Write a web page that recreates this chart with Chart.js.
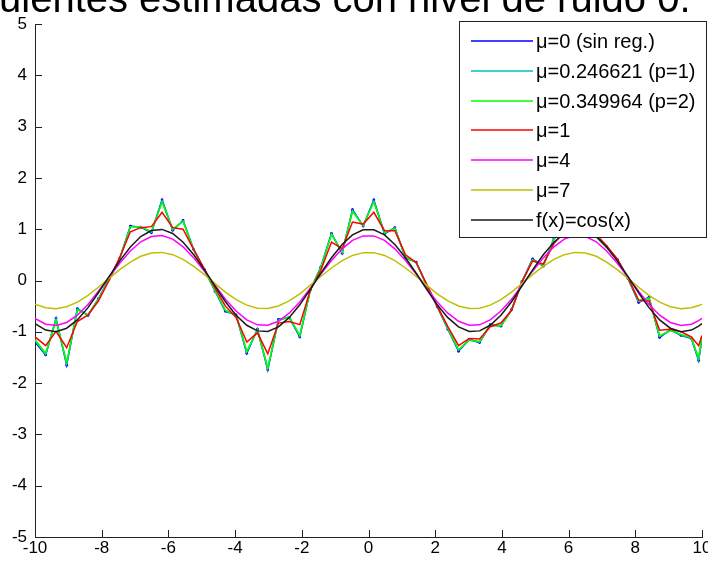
<!DOCTYPE html>
<html>
<head>
<meta charset="utf-8">
<script src="https://cdn.jsdelivr.net/npm/chart.js@4/dist/chart.umd.min.js"></script>
<style>
html, body { margin: 0; padding: 0; background: #fff; overflow: hidden; }
canvas { display: block; }
</style>
</head>
<body>
<canvas id="plot" width="708" height="561"></canvas>
<script>
"use strict";

// sample positions along x
var xs = [-10, -9.68, -9.37, -9.05, -8.73, -8.41, -8.10, -7.78, -7.46, -7.14, -6.83, -6.51, -6.19, -5.87, -5.56, -5.24,
  -4.92, -4.60, -4.29, -3.97, -3.65, -3.33, -3.02, -2.70, -2.38, -2.06, -1.75, -1.43, -1.11, -0.79, -0.48, -0.16,
  0.16, 0.48, 0.79, 1.11, 1.43, 1.75, 2.06, 2.38, 2.70, 3.02, 3.33, 3.65, 3.97, 4.29, 4.60, 4.92,
  5.24, 5.56, 5.87, 6.19, 6.51, 6.83, 7.14, 7.46, 7.78, 8.10, 8.41, 8.73, 9.05, 9.37, 9.68, 9.90, 10];

var yMu0 = [-1.20, -1.45, -0.74, -1.65, -0.55, -0.68, -0.36, 0.03, 0.43, 1.06, 1.04, 0.93, 1.57, 0.98, 1.17, 0.60,
  0.21, -0.21, -0.60, -0.67, -1.42, -0.95, -1.74, -0.76, -0.72, -1.10, -0.19, 0.26, 0.92, 0.53, 1.38, 1.06,
  1.57, 0.91, 1.03, 0.44, 0.36, -0.11, -0.51, -0.95, -1.38, -1.15, -1.21, -0.86, -0.89, -0.57, -0.02, 0.42,
  0.28, 0.82, 1.17, 1.33, 0.93, 0.86, 0.66, 0.41, 0.04, -0.43, -0.33, -1.11, -0.96, -1.07, -1.13, -1.56, -1.12];

var yP1 = [-1.17, -1.44, -0.76, -1.62, -0.56, -0.67, -0.37, 0.02, 0.42, 1.05, 1.05, 0.94, 1.55, 0.99, 1.16, 0.60,
  0.20, -0.20, -0.59, -0.68, -1.40, -0.96, -1.72, -0.77, -0.71, -1.08, -0.20, 0.25, 0.91, 0.54, 1.36, 1.07,
  1.55, 0.92, 1.02, 0.45, 0.35, -0.10, -0.50, -0.94, -1.36, -1.16, -1.20, -0.87, -0.88, -0.58, -0.03, 0.41,
  0.29, 0.81, 1.16, 1.31, 0.94, 0.85, 0.65, 0.40, 0.05, -0.41, -0.34, -1.09, -0.97, -1.06, -1.12, -1.54, -1.11];

var yP2 = [-1.15, -1.42, -0.77, -1.60, -0.57, -0.67, -0.37, 0.02, 0.42, 1.05, 1.05, 0.95, 1.53, 1.00, 1.15, 0.60,
  0.20, -0.20, -0.58, -0.68, -1.38, -0.97, -1.70, -0.78, -0.71, -1.07, -0.20, 0.25, 0.90, 0.55, 1.35, 1.07,
  1.53, 0.93, 1.02, 0.45, 0.35, -0.10, -0.50, -0.93, -1.35, -1.16, -1.19, -0.88, -0.88, -0.58, -0.03, 0.40,
  0.30, 0.80, 1.15, 1.30, 0.95, 0.85, 0.65, 0.40, 0.05, -0.40, -0.35, -1.08, -0.97, -1.05, -1.12, -1.52, -1.10];

var yMu1 = [-1.10, -1.27, -0.99, -1.31, -0.80, -0.67, -0.40, 0.00, 0.45, 0.95, 1.03, 1.05, 1.33, 1.03, 1.00, 0.60,
  0.22, -0.15, -0.50, -0.72, -1.20, -1.02, -1.43, -0.83, -0.80, -0.86, -0.20, 0.20, 0.75, 0.62, 1.14, 1.10,
  1.33, 0.97, 0.97, 0.50, 0.35, -0.08, -0.50, -0.90, -1.27, -1.13, -1.14, -0.90, -0.83, -0.58, -0.03, 0.38,
  0.32, 0.72, 0.95, 1.15, 0.95, 0.90, 0.68, 0.42, 0.05, -0.38, -0.40, -0.97, -0.95, -1.00, -1.10, -1.27, -1.07];

var yMu4 = [-0.738, -0.851, -0.878, -0.818, -0.676, -0.466, -0.210, 0.067, 0.337, 0.575, 0.755, 0.858, 0.876, 0.807, 0.657, 0.441,
  0.182, -0.096, -0.364, -0.596, -0.768, -0.864, -0.873, -0.795, -0.637, -0.417, -0.154, 0.125, 0.391, 0.617, 0.782, 0.869,
  0.869, 0.782, 0.617, 0.391, 0.125, -0.154, -0.417, -0.637, -0.795, -0.873, -0.864, -0.768, -0.596, -0.364, -0.096, 0.182,
  0.441, 0.657, 0.807, 0.876, 0.858, 0.755, 0.575, 0.337, 0.067, -0.210, -0.466, -0.676, -0.818, -0.878, -0.851, -0.782, -0.738];

var yMu7 = [-0.461, -0.532, -0.549, -0.511, -0.422, -0.291, -0.131, 0.042, 0.211, 0.359, 0.472, 0.536, 0.548, 0.504, 0.411, 0.276,
  0.114, -0.060, -0.228, -0.372, -0.480, -0.540, -0.546, -0.497, -0.398, -0.261, -0.096, 0.078, 0.244, 0.386, 0.489, 0.543,
  0.543, 0.489, 0.386, 0.244, 0.078, -0.096, -0.261, -0.398, -0.497, -0.546, -0.540, -0.480, -0.372, -0.228, -0.060, 0.114,
  0.276, 0.411, 0.504, 0.548, 0.536, 0.472, 0.359, 0.211, 0.042, -0.131, -0.291, -0.422, -0.511, -0.549, -0.532, -0.489, -0.461];

var yCos = [-0.839, -0.967, -0.998, -0.930, -0.768, -0.529, -0.239, 0.076, 0.383, 0.653, 0.858, 0.975, 0.996, 0.917, 0.747, 0.501,
  0.207, -0.109, -0.414, -0.677, -0.873, -0.982, -0.992, -0.903, -0.724, -0.474, -0.175, 0.142, 0.444, 0.701, 0.889, 0.987,
  0.987, 0.889, 0.701, 0.444, 0.142, -0.175, -0.474, -0.724, -0.903, -0.992, -0.982, -0.873, -0.677, -0.414, -0.109, 0.207,
  0.501, 0.747, 0.917, 0.996, 0.975, 0.858, 0.653, 0.383, 0.076, -0.239, -0.529, -0.768, -0.930, -0.998, -0.967, -0.889, -0.839];

var seriesLabels = ["\u03bc=0 (sin reg.)", "\u03bc=0.246621 (p=1)", "\u03bc=0.349964 (p=2)", "\u03bc=1", "\u03bc=4", "\u03bc=7", "f(x)=cos(x)"];
var seriesValues = [yMu0, yP1, yP2, yMu1, yMu4, yMu7, yCos];
var seriesColors = ["#0000ff", "#00bfbf", "#00ff00", "#ff0000", "#ff00ff", "#bfbf00", "#1a1a1a"];

var xTicks = [-10, -8, -6, -4, -2, 0, 2, 4, 6, 8, 10];
var yTicks = [-5, -4, -3, -2, -1, 0, 1, 2, 3, 4, 5];

var titleText = "uientes estimadas con nivel de ruido 0.";

var tickFont = { family: "'Liberation Sans Narrow', 'Arial Narrow', 'Liberation Sans', sans-serif", size: 17 };

var datasets = seriesValues.map(function (vals, i) {
  return {
    label: seriesLabels[i],
    data: xs.map(function (x, k) { return { x: x, y: vals[k] }; }),
    borderColor: seriesColors[i],
    backgroundColor: seriesColors[i],
    borderWidth: 1.5,
    pointRadius: i === 0 ? 1.4 : 0,
    pointBorderWidth: 0,
    fill: false,
    tension: 0,
    order: seriesValues.length - i
  };
});

// inward tick marks, the boxed legend and the clipped title
var decor = {
  id: "decor",
  afterDraw: function (chart) {
    var c = chart.ctx, xs_ = chart.scales.x, ys_ = chart.scales.y, a = chart.chartArea;
    c.save();
    c.strokeStyle = "#222";
    c.lineWidth = 1;
    c.beginPath();
    xTicks.forEach(function (v) {
      var px = Math.round(xs_.getPixelForValue(v)) + 0.5;
      c.moveTo(px, a.bottom);
      c.lineTo(px, a.bottom - 7);
    });
    yTicks.forEach(function (v) {
      var py = Math.round(ys_.getPixelForValue(v)) + 0.5;
      c.moveTo(a.left, py);
      c.lineTo(a.left + 7, py);
    });
    c.stroke();

    // legend
    var bx = 459.5, by = 21.5, bw = 247, bh = 216;
    c.fillStyle = "#fff";
    c.fillRect(bx, by, bw, bh);
    c.strokeStyle = "#222";
    c.strokeRect(bx, by, bw, bh);
    c.font = "20px 'Liberation Sans', Arial, sans-serif";
    c.textBaseline = "middle";
    c.textAlign = "left";
    seriesLabels.forEach(function (lab, i) {
      var ry = Math.round(41 + i * 29.8);
      c.strokeStyle = seriesColors[i];
      c.lineWidth = 1.5;
      c.beginPath();
      c.moveTo(471, ry);
      c.lineTo(533, ry);
      c.stroke();
      c.fillStyle = "#000";
      c.fillText(lab, 536, ry + 1);
    });

    // title, cut off at the top as in the original
    c.font = "40px 'Liberation Sans', Arial, sans-serif";
    c.textBaseline = "alphabetic";
    c.fillStyle = "#000";
    c.fillText(titleText, -1, 12);
    c.restore();
  }
};

new Chart(document.getElementById("plot").getContext("2d"), {
  type: "line",
  data: { datasets: datasets },
  options: {
    responsive: false,
    animation: false,
    devicePixelRatio: 1,
    layout: { padding: { top: 24, right: 6, left: 0, bottom: 0 } },
    plugins: { legend: { display: false }, tooltip: { enabled: false }, title: { display: false } },
    scales: {
      x: {
        type: "linear", min: -10, max: 10,
        grid: { display: false, drawTicks: false },
        border: { display: true, color: "#222", width: 1 },
        ticks: { color: "#000", font: tickFont, padding: 1, maxRotation: 0, autoSkip: false },
        afterBuildTicks: function (s) { s.ticks = xTicks.map(function (v) { return { value: v }; }); },
        afterFit: function (s) { s.height = 24; s.paddingLeft = 0; s.paddingRight = 0; }
      },
      y: {
        type: "linear", min: -5, max: 5,
        grid: { display: false, drawTicks: false },
        border: { display: true, color: "#222", width: 1 },
        ticks: { color: "#000", font: tickFont, padding: 8, autoSkip: false },
        afterBuildTicks: function (s) { s.ticks = yTicks.map(function (v) { return { value: v }; }); },
        afterFit: function (s) { s.width = 35; s.paddingTop = 0; s.paddingBottom = 0; }
      }
    }
  },
  plugins: [decor]
});
</script>
</body>
</html>
